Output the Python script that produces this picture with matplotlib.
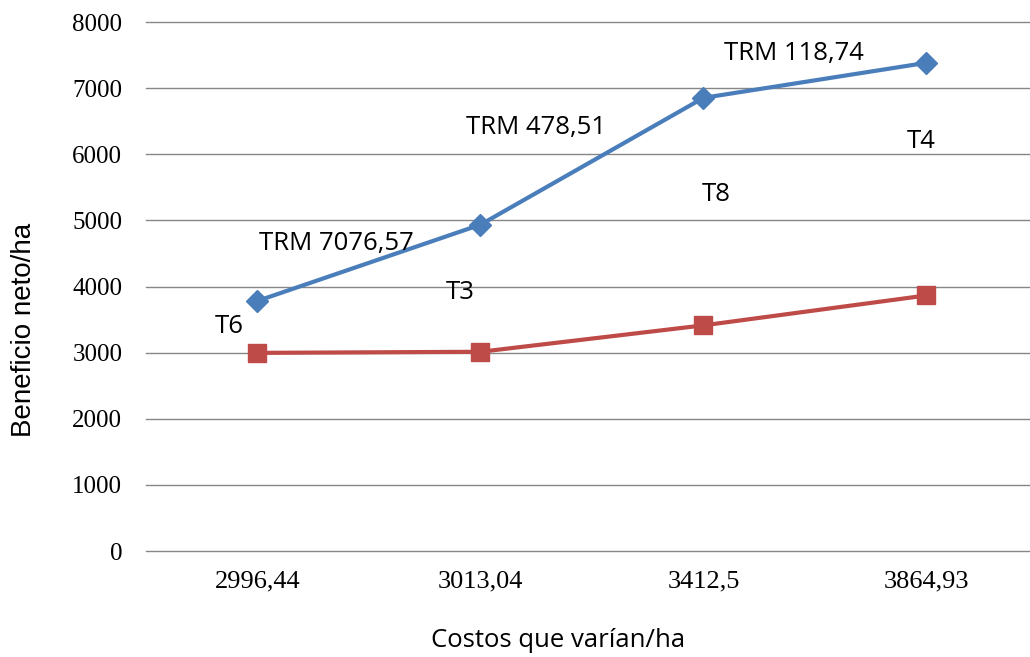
import matplotlib
matplotlib.use('Agg')
import matplotlib.pyplot as plt

# costos que varían por tratamiento (eje x) y beneficio neto
costos = ['2996,44', '3013,04', '3412,5', '3864,93']
beneficio = [3782, 4935, 6853, 7383]
costos_val = [2996.44, 3013.04, 3412.5, 3864.93]

trm_labels = ['TRM 7076,57', 'TRM 478,51', 'TRM 118,74']
trm_pos = [(0.354, 4658), (1.247, 6412), (2.404, 7531)]
trat_labels = ['T6', 'T3', 'T8', 'T4']
trat_pos = [(-0.126, 3388), (0.910, 3917), (2.058, 5384), (2.978, 6200)]

sans = ['Open Sans', 'DejaVu Sans']
arial = ['Liberation Sans', 'DejaVu Sans']
serif = ['Liberation Serif', 'DejaVu Serif']

fig = plt.figure(figsize=(10.3, 6.57), dpi=100)
ax = fig.add_axes([0.1417, 0.1613, 0.866, 0.8052])

x = range(len(costos))
ax.plot(x, beneficio, color='#4A7EBB', lw=3, marker='D', ms=11,
        zorder=3)
ax.plot(x, costos_val, color='#BE4B48', lw=3, marker='s', ms=13,
        zorder=3)

for lab, (tx, ty) in zip(trm_labels, trm_pos):
    ax.text(tx, ty, lab, ha='center', va='center', fontsize=18.5,
            family=sans, color='black')
for lab, (tx, ty) in zip(trat_labels, trat_pos):
    ax.text(tx, ty, lab, ha='center', va='center', fontsize=18.5,
            family=sans, color='black')

ax.set_xlim(-0.5, 3.5)
ax.set_ylim(0, 8000)
ax.set_yticks(range(0, 8001, 1000))
ax.set_xticks(list(x))
ax.set_xticklabels(costos)
ax.grid(axis='y', color='#868686', lw=1)
for gl in ax.yaxis.get_gridlines():
    gl.set_clip_on(False)
ax.set_axisbelow(True)
for s in ax.spines.values():
    s.set_visible(False)
ax.tick_params(length=0)
ax.tick_params(axis='y', pad=17)
ax.tick_params(axis='x', pad=14)
for t in ax.get_yticklabels():
    t.set_family(serif)
    t.set_fontsize(18)
for t in ax.get_xticklabels():
    t.set_family(serif)
    t.set_fontsize(19)

ax.set_xlabel('Costos que varían/ha', family=sans, fontsize=18.5)
ax.xaxis.set_label_coords(0.462, -0.146)
ax.set_ylabel('Beneficio neto/ha', family=arial, fontsize=20, va='center')
ax.yaxis.set_label_coords(-0.137, 0.418)

fig.savefig('out.png', dpi=100)
